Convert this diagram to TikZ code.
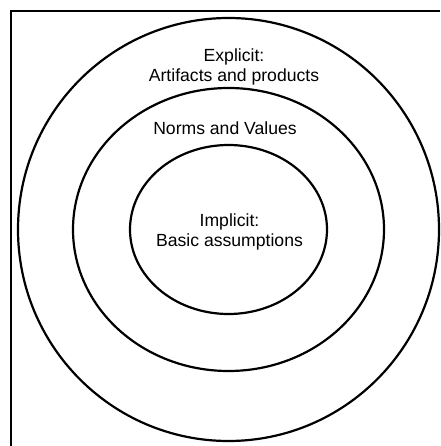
\documentclass[tikz,border=0pt]{standalone}
\usepackage{fontspec}
\setmainfont{Liberation Sans}
\begin{document}
\begin{tikzpicture}[x=1pt,y=-1pt,
  ring/.style={line width=2.2pt},
  frame/.style={line width=1.2pt},
  ringtext/.style={font=\fontsize{17.6}{20}\selectfont, align=center, inner sep=0pt}]
\useasboundingbox (0,0) rectangle (440,446);
% open frame: top and left edges
\draw[frame] (440,11) -- (11,11) -- (11,446);
% three nested layers around a common centre
\coordinate (c) at (228.5,229.5);
\draw[ring] (c) ellipse [x radius=210.5, y radius=211.5];
\draw[ring] (c) ellipse [x radius=155.5, y radius=141.5];
\draw[ring] (c) ellipse [x radius=98.5, y radius=84.5];
% layer labels
\node[ringtext] (explicit) at (234,66.5) {Explicit:\\Artifacts and products};
\node[ringtext] (norms) at (225,128.7) {Norms and Values};
\node[ringtext] (implicit) at (229.5,231.9) {Implicit:\\Basic assumptions};
\end{tikzpicture}
\end{document}
